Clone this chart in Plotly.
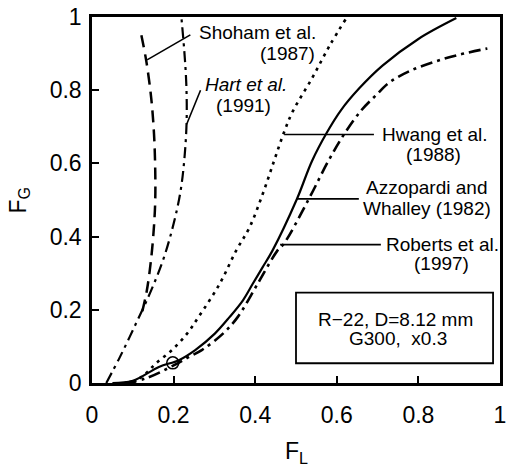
import plotly.graph_objects as go

# --- data ---
shoham_x = [0.121, 0.133, 0.145, 0.152, 0.155, 0.155, 0.152, 0.145, 0.134, 0.122]
shoham_y = [0.95, 0.88, 0.78, 0.68, 0.58, 0.50, 0.43, 0.34, 0.25, 0.19]

hart_x = [0.035, 0.068, 0.108, 0.145, 0.176, 0.200, 0.217, 0.227, 0.232, 0.231, 0.226, 0.219]
hart_y = [0.0, 0.07, 0.163, 0.253, 0.342, 0.435, 0.524, 0.62, 0.72, 0.82, 0.91, 1.0]

hwang_x = [0.10, 0.132, 0.156, 0.196, 0.233, 0.261, 0.313, 0.353, 0.386, 0.418, 0.446, 0.470, 0.492, 0.539, 0.583, 0.623]
hwang_y = [0.0, 0.026, 0.053, 0.090, 0.135, 0.180, 0.271, 0.361, 0.425, 0.515, 0.606, 0.683, 0.742, 0.832, 0.923, 0.996]

azz_x = [0.05, 0.10, 0.164, 0.213, 0.253, 0.301, 0.337, 0.370, 0.394, 0.418, 0.442, 0.502, 0.539, 0.575, 0.61, 0.655, 0.712, 0.80, 0.893]
azz_y = [0.0, 0.006, 0.044, 0.0625, 0.090, 0.135, 0.180, 0.226, 0.271, 0.316, 0.361, 0.502, 0.606, 0.683, 0.745, 0.805, 0.867, 0.94, 0.997]

rob_x = [0.08, 0.13, 0.20, 0.237, 0.269, 0.321, 0.357, 0.406, 0.454, 0.470, 0.531, 0.579, 0.618, 0.66, 0.695, 0.73, 0.78, 0.84, 0.90, 0.969]
rob_y = [0.0, 0.012, 0.048, 0.071, 0.090, 0.135, 0.180, 0.271, 0.361, 0.380, 0.502, 0.606, 0.68, 0.745, 0.785, 0.822, 0.853, 0.878, 0.897, 0.914]

point_x = [0.198]
point_y = [0.055]

tick_vals = [0, 0.2, 0.4, 0.6, 0.8, 1]
tick_text = ["0", "0.2", "0.4", "0.6", "0.8", "1"]

label_lines = ["Shoham et al.", "(1987)", "<i>Hart et al.</i>", "(1991)", "Hwang et al.", "(1988)",
               "Azzopardi and", "Whalley (1982)", "Roberts et al.", "(1997)",
               "R\u221222, D=8.12 mm", "G300,  x0.3"]
label_x = [0.406, 0.478, 0.377, 0.372, 0.841, 0.836, 0.819, 0.821, 0.860, 0.857, 0.744, 0.749]
label_y = [0.959, 0.899, 0.815, 0.758, 0.679, 0.625, 0.533, 0.476, 0.378, 0.326, 0.174, 0.122]

leader_x0 = [0.135, 0.232, 0.471, 0.502, 0.461]
leader_y0 = [0.883, 0.707, 0.679, 0.503, 0.378]
leader_x1 = [0.241, 0.266, 0.691, 0.654, 0.708]
leader_y1 = [0.951, 0.80, 0.679, 0.503, 0.378]

FONT = "Liberation Sans, Arial, sans-serif"

fig = go.Figure()
fig.add_trace(go.Scatter(x=shoham_x, y=shoham_y, mode="lines", line_shape="spline",
                         line=dict(color="black", width=2.5, dash="12px,7px")))
fig.add_trace(go.Scatter(x=hart_x, y=hart_y, mode="lines", line_shape="spline",
                         line=dict(color="black", width=2.2, dash="11px,5px,3px,5px")))
fig.add_trace(go.Scatter(x=hwang_x, y=hwang_y, mode="lines", line_shape="spline",
                         line=dict(color="black", width=2.6, dash="3px,5px")))
fig.add_trace(go.Scatter(x=azz_x, y=azz_y, mode="lines", line_shape="spline",
                         line=dict(color="black", width=2.2)))
fig.add_trace(go.Scatter(x=rob_x, y=rob_y, mode="lines", line_shape="spline",
                         line=dict(color="black", width=2.6, dash="12px,5px,3px,5px")))
fig.add_trace(go.Scatter(x=point_x, y=point_y, mode="markers",
                         marker=dict(symbol="circle-open", size=12, color="black", line=dict(width=1.5))))

for x0, y0, x1, y1 in zip(leader_x0, leader_y0, leader_x1, leader_y1):
    fig.add_shape(type="line", x0=x0, y0=y0, x1=x1, y1=y1, xref="x", yref="y",
                  line=dict(color="black", width=1.6))

for t, x, y in zip(label_lines, label_x, label_y):
    fig.add_annotation(text=t, x=x, y=y, xref="x", yref="y", xanchor="center", yanchor="middle",
                       showarrow=False, font=dict(family=FONT, size=19, color="black"))

fig.add_shape(type="rect", x0=0.5, x1=0.983, y0=0.054, y1=0.247, xref="x", yref="y",
              line=dict(color="black", width=1.8))

fig.add_annotation(text="F<sub>L</sub>", x=0.5, y=-0.19, xref="paper", yref="paper",
                   xanchor="center", yanchor="middle", showarrow=False,
                   font=dict(family=FONT, size=23, color="black"))
fig.add_annotation(text="F<sub>G</sub>", x=-0.18, y=0.5, xref="paper", yref="paper",
                   xanchor="center", yanchor="middle", showarrow=False, textangle=-90,
                   font=dict(family=FONT, size=23, color="black"))

axis_common = dict(range=[0, 1], tickvals=tick_vals, ticktext=tick_text, ticks="inside", ticklen=7,
                   tickwidth=1.5, tickcolor="black", showline=True, linecolor="black", linewidth=2.5,
                   mirror=True, showgrid=False, zeroline=False,
                   tickfont=dict(family=FONT, size=23, color="black"))

fig.update_layout(
    width=510, height=474, margin=dict(l=92, r=4, t=15, b=91),
    paper_bgcolor="white", plot_bgcolor="white", showlegend=False,
    xaxis=dict(**axis_common, ticklabelstandoff=10),
    yaxis=dict(**axis_common, ticklabelstandoff=3),
)

fig.write_html("out.html")
